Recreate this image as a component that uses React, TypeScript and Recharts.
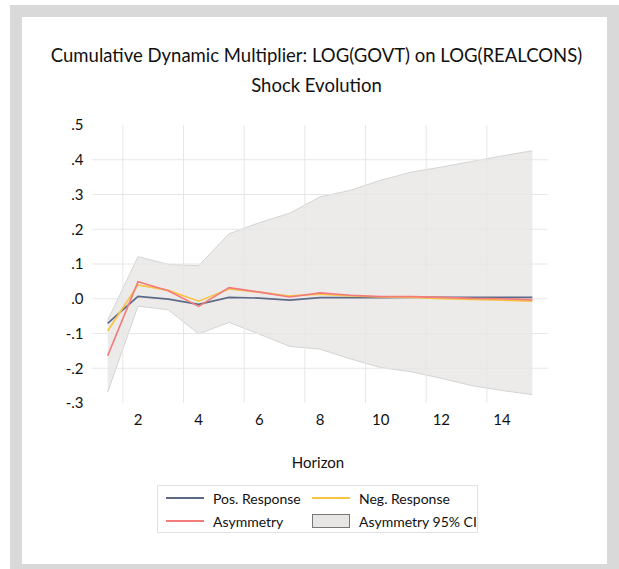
import {ComposedChart, XAxis, YAxis, Line, Area, ReferenceLine} from "recharts";

const horizon = [1, 2, 3, 4, 5, 6, 7, 8, 9, 10, 11, 12, 13, 14, 15];
const posResponse = [-0.071, 0.007, -0.001, -0.016, 0.004, 0.002, -0.004, 0.003, 0.003, 0.003, 0.004, 0.004, 0.004, 0.004, 0.004];
const negResponse = [-0.093, 0.04, 0.024, -0.007, 0.028, 0.019, 0.008, 0.013, 0.008, 0.005, 0.004, 0.0, -0.002, -0.004, -0.007];
const asymmetry = [-0.164, 0.049, 0.023, -0.022, 0.032, 0.019, 0.005, 0.017, 0.01, 0.006, 0.006, 0.004, 0.001, 0.0, -0.003];
const ciUpper = [-0.062, 0.121, 0.099, 0.095, 0.187, 0.219, 0.246, 0.293, 0.312, 0.341, 0.364, 0.379, 0.395, 0.411, 0.426];
const ciLower = [-0.269, -0.021, -0.032, -0.101, -0.068, -0.102, -0.137, -0.145, -0.173, -0.198, -0.21, -0.229, -0.25, -0.264, -0.276];

const xTicks = [2, 4, 6, 8, 10, 12, 14];
const yTicks = [-0.3, -0.2, -0.1, 0, 0.1, 0.2, 0.3, 0.4, 0.5];
const xGrid = [1.5, 3.5, 5.5, 7.5, 9.5, 11.5, 13.5];
const yGrid = [-0.2, -0.1, 0, 0.1, 0.2, 0.3, 0.4];

const POS = "#5c6a88";
const NEG = "#f8c445";
const ASYM = "#f27c7c";
const BAND = "#e7e6e5";
const GRID = "#e6e6e6";
const FONT = "Lato, 'Open Sans', sans-serif";

const data = horizon.map((h, i) => ({
  h,
  pos: posResponse[i],
  neg: negResponse[i],
  asym: asymmetry[i],
  ci: [ciLower[i], ciUpper[i]],
}));

const fmtY = (v: number) => v.toFixed(1).replace("0.", ".");

const LegendLine = ({color}: {color: string}) => (
  <div style={{width: 38, height: 0, borderTop: `2px solid ${color}`, marginRight: 9}} />
);

const App = () => {
  return (
    <div style={{position: "absolute", left: 0, top: 0, width: 619, height: 569, fontFamily: FONT, color: "#111"}}>
      <div style={{position: "absolute", left: 10, top: 5, width: 609, height: 564, background: "#d9d9d9"}} />
      <div style={{position: "absolute", left: 22, top: 17, width: 585, height: 547, background: "#fff"}} />
      <div style={{position: "absolute", left: 0, top: 40, width: 633, textAlign: "center", fontSize: 18.5, lineHeight: "30px"}}>
        <div>Cumulative Dynamic Multiplier: LOG(GOVT) on LOG(REALCONS)</div>
        <div>Shock Evolution</div>
      </div>
      <div style={{position: "absolute", left: 0, top: 0}}>
        <ComposedChart width={619} height={569} data={data} margin={{top: 125, right: 71.5, bottom: 106, left: 32.5}}>
          {yGrid.map((v) => (
            <ReferenceLine key={`y${v}`} y={v} stroke={GRID} strokeWidth={1} />
          ))}
          {xGrid.map((v) => (
            <ReferenceLine key={`x${v}`} x={v} stroke={GRID} strokeWidth={1} />
          ))}
          <XAxis
            dataKey='h'
            type='number'
            domain={[0.5, 15.5]}
            ticks={xTicks}
            axisLine={false}
            tickLine={false}
            tickSize={0}
            tickMargin={11}
            height={60}
            tick={{fill: "#111", fontSize: 15, fontFamily: FONT}}
          />
          <YAxis
            type='number'
            domain={[-0.3, 0.5]}
            ticks={yTicks}
            tickFormatter={fmtY}
            axisLine={false}
            tickLine={false}
            tickSize={0}
            tickMargin={9}
            width={60}
            tick={{fill: "#111", fontSize: 15, fontFamily: FONT}}
          />
          <Area dataKey='ci' type='linear' fill={BAND} fillOpacity={0.8} stroke='#d4d4d4' strokeWidth={1} isAnimationActive={false} />
          <Line dataKey='pos' type='linear' stroke={POS} strokeWidth={1.7} dot={false} isAnimationActive={false} />
          <Line dataKey='neg' type='linear' stroke={NEG} strokeWidth={1.7} dot={false} isAnimationActive={false} />
          <Line dataKey='asym' type='linear' stroke={ASYM} strokeWidth={1.7} dot={false} isAnimationActive={false} />
        </ComposedChart>
      </div>
      <div style={{position: "absolute", left: 270, top: 452, width: 96, textAlign: "center", fontSize: 15, lineHeight: "20px"}}>Horizon</div>
      <div
        style={{
          position: "absolute",
          left: 157,
          top: 485,
          width: 319,
          height: 46,
          border: "1px solid #e2e2e2",
          fontSize: 14,
        }}
      >
        <div style={{position: "absolute", left: 8, top: 2, height: 20, display: "flex", alignItems: "center"}}>
          <LegendLine color={POS} />
          <span>Pos. Response</span>
        </div>
        <div style={{position: "absolute", left: 154, top: 2, height: 20, display: "flex", alignItems: "center"}}>
          <LegendLine color={NEG} />
          <span>Neg. Response</span>
        </div>
        <div style={{position: "absolute", left: 8, top: 25, height: 20, display: "flex", alignItems: "center"}}>
          <LegendLine color={ASYM} />
          <span>Asymmetry</span>
        </div>
        <div style={{position: "absolute", left: 154, top: 25, height: 20, display: "flex", alignItems: "center"}}>
          <div style={{width: 36, height: 12, background: BAND, border: "1px solid #777", marginRight: 9}} />
          <span>Asymmetry 95% CI</span>
        </div>
      </div>
    </div>
  );
};

export default App;
